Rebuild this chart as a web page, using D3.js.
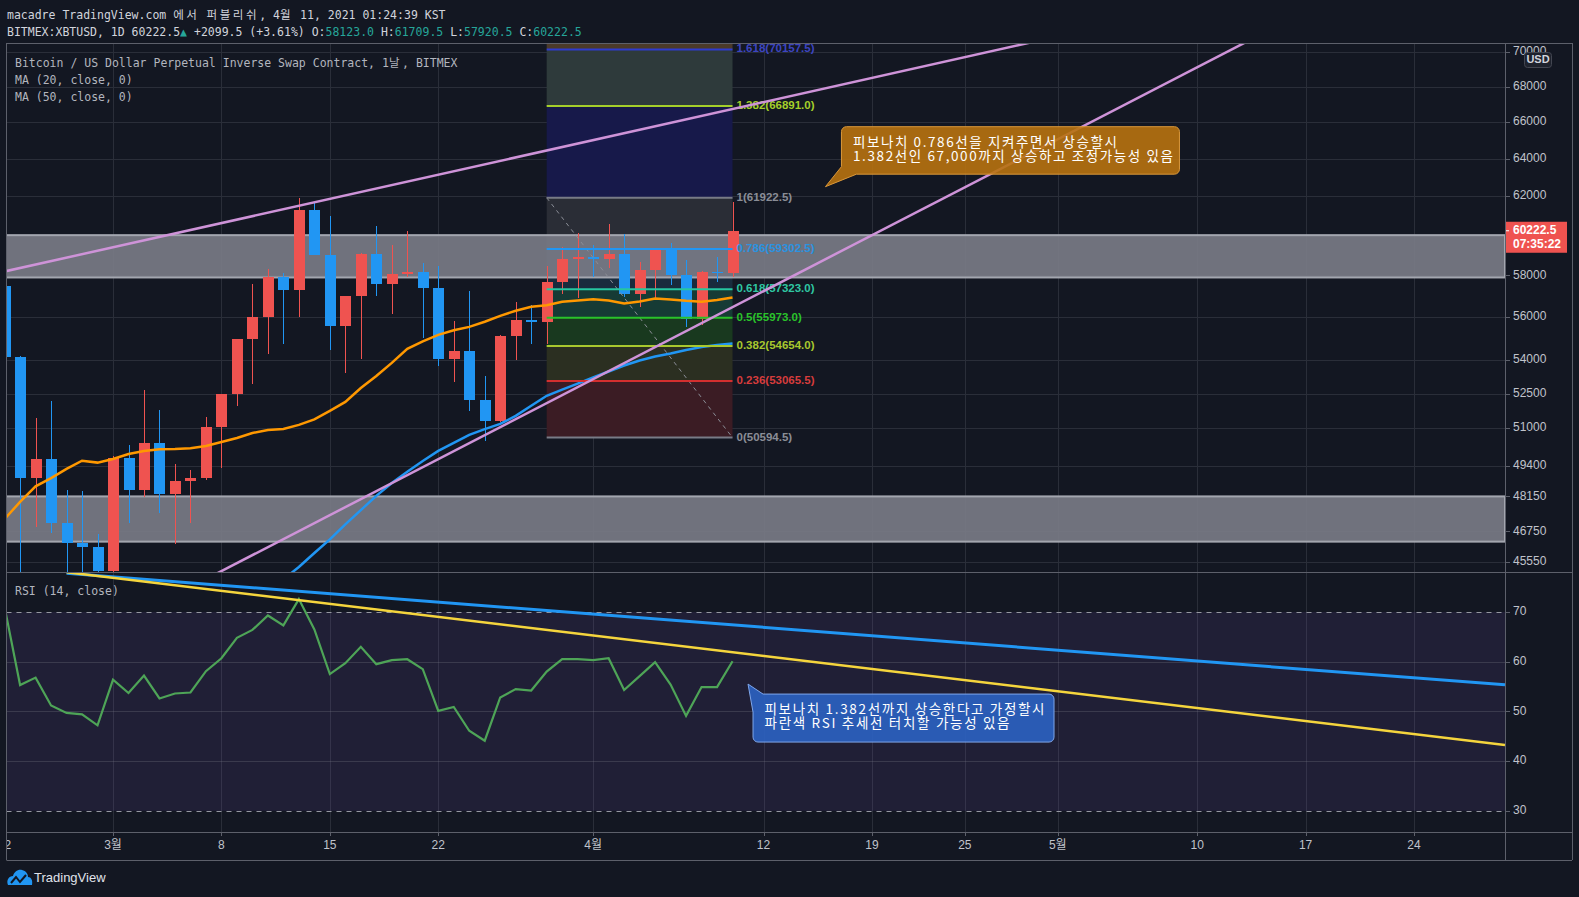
<!DOCTYPE html>
<html>
<head>
<meta charset="utf-8">
<script src="https://cdn.jsdelivr.net/npm/d3@7"></script>
<style>
    html, body { margin: 0; padding: 0; background: #131722; }
    svg { display: block; }
    text { font-family: "Liberation Sans", Arial, "Noto Sans CJK KR", sans-serif; }
    text.mono, .mono text, .mono tspan { font-family: "DejaVu Sans Mono", "Noto Sans CJK KR", monospace; }
    text.kr { font-family: "Noto Sans CJK KR", sans-serif; }
</style>
</head>
<body>
<svg id="chart"></svg>
<script>
const W = 1579, H = 897;

// ---- data (BITMEX:XBTUSD daily, Feb 22 - Apr 10 2021) ----
const firstDay = '2021-02-22';
const lastDay = '2021-04-11'; // exclusive
const opens = [57500, 54135, 48900, 49690, 47090, 46310, 46160, 45200, 49720, 48420, 50350, 48260, 48760, 48900, 51040, 52490, 54980, 56000, 57900, 57290, 61290, 59010, 55570, 57000, 59050, 57580, 58070, 58190, 57400, 54060, 54420, 52220, 51310, 55110, 55860, 55790, 57670, 58800, 58900, 58800, 59050, 57110, 58270, 59250, 58020, 55930, 58170, 58123];
const highs = [57550, 54200, 51420, 52180, 48420, 48380, 46650, 49830, 50280, 52660, 51780, 49480, 49230, 51480, 52500, 54990, 57600, 58300, 58100, 61890, 61700, 60960, 57000, 59120, 60450, 59500, 60200, 58600, 58450, 55800, 57240, 53290, 55150, 56700, 56550, 58450, 59400, 60100, 59500, 60580, 60050, 58640, 59250, 59600, 58740, 58200, 58900, 61709.5];
const lows = [47000, 45000, 46930, 46690, 44200, 45100, 43000, 45000, 47070, 48140, 47470, 46250, 47070, 48800, 49300, 51980, 52950, 54290, 54750, 56000, 59000, 54470, 53440, 54040, 56990, 56150, 57900, 55020, 53720, 53000, 51730, 50450, 51250, 54000, 54730, 54730, 57100, 56900, 57900, 58350, 56950, 56500, 56810, 57520, 55520, 55650, 57680, 57920.5];
const closes = [54135, 48900, 49690, 47090, 46310, 46160, 45200, 49720, 48420, 50350, 48260, 48760, 48900, 51040, 52490, 54980, 56000, 57900, 57290, 61290, 59010, 55570, 57000, 59050, 57580, 58070, 58190, 57400, 54060, 54420, 52220, 51310, 55110, 55860, 55790, 57670, 58800, 58900, 58800, 59050, 57110, 58270, 59250, 58020, 55930, 58170, 58123, 60222.5];

const ma20 = [47240, 47930, 48560, 48900, 49280, 49620, 49540, 49690, 49900, 50030, 50100, 50110, 50140, 50240, 50410, 50580, 50790, 50920, 50960, 51140, 51380, 51750, 52140, 52750, 53290, 53880, 54520, 54870, 55170, 55380, 55540, 55780, 56060, 56300, 56490, 56560, 56730, 56790, 56850, 56790, 56650, 56740, 56880, 56840, 56770, 56730, 56810, 56930];
// MA 50 starts on Mar 12 (below the visible range before that)
const ma50Start = 18;
const ma50 = [44900, 45370, 45910, 46440, 47030, 47600, 48170, 48700, 49160, 49610, 50030, 50370, 50710, 50960, 51180, 51530, 51970, 52410, 52680, 52950, 53220, 53490, 53760, 53990, 54170, 54310, 54470, 54610, 54700, 54770];

const rsi = [71.0, 55.3, 56.8, 51.2, 49.7, 49.4, 47.2, 56.4, 53.7, 57.2, 52.6, 53.6, 53.8, 58.1, 60.7, 64.8, 66.4, 69.3, 67.3, 72.6, 66.5, 57.5, 59.7, 63.0, 59.5, 60.3, 60.5, 58.5, 50.1, 50.9, 46.1, 44.1, 52.8, 54.5, 54.2, 58.0, 60.5, 60.5, 60.3, 60.7, 54.3, 57.1, 59.9, 55.4, 49.1, 54.9, 54.9, 60.1];

// fibonacci retracement (log)
const fibStart = '2021-03-29', fibEnd = '2021-04-10';
const fibRatios = [0, 0.236, 0.382, 0.5, 0.618, 0.786, 1, 1.382, 1.618];
const fibValues = [50594.5, 53065.5, 54654.0, 55973.0, 57323.0, 59302.5, 61922.5, 66891.0, 70157.5];
const fibLineColors = ['#787b86', '#d32f2f', '#a8c82e', '#2ac22a', '#26c6a0', '#2196f3', '#787b86', '#a5cf2a', '#2f3bd0'];
const fibLabelColors = ['#8a8d96', '#d63c3c', '#a8c82e', '#2ac22a', '#2fc7a2', '#2a93e0', '#8a8d96', '#a5cf2a', '#3d45c0'];
const fibFills = ['#3b1c24', '#2b2f21', '#19391f', '#163b35', '#192b3d', '#2a2d36', '#17194a', '#2e3a3b'];
const fibTopFill = '#4b3a2a';

// support / resistance zones [top, bottom]
const zones = [[60000, 57900], [48150, 46350]];

// channel lines: two anchors each [date, price]
const channel = [
    [['2021-02-22', 58193], ['2021-04-20', 68696]],
    [['2021-03-28', 51734], ['2021-04-17', 59194]]
];
// RSI trend lines [date, rsi]
const rsiTrends = [
    { color: '#2196f3', width: 3, pts: [['2021-02-26', 77.8], ['2021-04-10', 67.4]] },
    { color: '#f5d53d', width: 2.5, pts: [['2021-02-26', 78.0], ['2021-04-10', 61.9]] }
];

const priceTicks = [70000, 68000, 66000, 64000, 62000, 58000, 56000, 54000, 52500, 51000, 49400, 48150, 46750, 45550];
const rsiTicks = [70, 60, 50, 40, 30];
const timeTicks = ['2021-02-22', '2021-03-01', '2021-03-08', '2021-03-15', '2021-03-22', '2021-04-01', '2021-04-12', '2021-04-19', '2021-04-25', '2021-05-01', '2021-05-10', '2021-05-17', '2021-05-24'];
const timeLabels = ['22', '3월', '8', '15', '22', '4월', '12', '19', '25', '5월', '10', '17', '24'];

const orangeNote = ['피보나치 0.786선을 지켜주면서 상승할시', '1.382선인 67,000까지 상승하고 조정가능성 있음'];
const orangeWidths = [264, 320];
const orangeTip = ['2021-04-16', 62500];
const blueNote = ['피보나치 1.382선까지 상승한다고 가정할시', '파란색 RSI 추세선 터치할 가능성 있음'];
const blueWidths = [280, 245];
const blueTip = ['2021-04-11', 55.5];

const lastPrice = 60222.5;
const countdown = '07:35:22';

// ---- layout ----
const L = 6.5, R = 1505, T = 43, PB = 572, RB = 832, AB = 860, OR = 1572;
const UP = '#ef5350', DOWN = '#2196f3';
const GRID = '#2a2e39', BORDER = '#5d606b', AXIS_TXT = '#c0c3cb';

const parse = d3.utcParse('%Y-%m-%d');
const days = d3.utcDay.range(parse(firstDay), parse(lastDay));

const x = d3.scaleUtc()
    .domain([parse('2021-02-22'), parse('2021-05-24')])
    .range([4.6, 1414]);
const y = d3.scaleLog().domain([45180, 70540]).range([PB, T]);
const yR = d3.scaleLinear().domain([30, 70]).range([810.8, 612]);

const svg = d3.select('#chart').attr('width', W).attr('height', H);
svg.append('rect').attr('width', W).attr('height', H).attr('fill', '#131722');

const defs = svg.append('defs');
const clip = (id, x0, y0, x1, y1) => defs.append('clipPath').attr('id', id)
    .append('rect').attr('x', x0).attr('y', y0).attr('width', x1 - x0).attr('height', y1 - y0);
clip('cp', L, T, R, PB);
clip('cr', L, PB, R, RB);
clip('ct', L, RB, R, AB);

// mono text with wider hangul runs (as rendered in the header)
const isKr = (s) => /[\u3131-\uD79D]/.test(s);
const monoText = (sel, str, color) => {
    const parts = str.split(/([\u3131-\uD79D]+)/).filter((p) => p.length);
    sel.attr('class', 'mono').attr('xml:space', 'preserve')
        .selectAll('tspan').data(parts).join('tspan')
        .attr('fill', color)
        .attr('letter-spacing', (d) => (isKr(d) ? 2.6 : null))
        .text((d) => d);
    return sel;
};

// ---- header ----
monoText(svg.append('text').attr('x', 7).attr('y', 15)
    .attr('dominant-baseline', 'middle').attr('font-size', 11.5),
    'macadre TradingView.com 에서 퍼블리쉬, 4월 11, 2021 01:24:39 KST', '#d1d4dc');

const TEAL = '#26a69a';
const hdr = [
    ['BITMEX:XBTUSD, 1D 60222.5', '#d1d4dc'], ['▲', TEAL], [' +2099.5 (+3.61%) O:', '#d1d4dc'],
    ['58123.0', TEAL], [' H:', '#d1d4dc'], ['61709.5', TEAL], [' L:', '#d1d4dc'],
    ['57920.5', TEAL], [' C:', '#d1d4dc'], ['60222.5', TEAL]
];
svg.append('text').attr('class', 'mono').attr('x', 7).attr('y', 32)
    .attr('dominant-baseline', 'middle').attr('font-size', 11.5).attr('xml:space', 'preserve')
    .selectAll('tspan').data(hdr).join('tspan')
    .attr('fill', (d) => d[1]).text((d) => d[0]);

// ---- grid ----
const grid = svg.append('g').attr('stroke', GRID).attr('stroke-width', 1);
grid.append('g').attr('clip-path', 'url(#cp)').selectAll('line').data(priceTicks).join('line')
    .attr('x1', L).attr('x2', R)
    .attr('y1', (d) => Math.round(y(d)) + 0.5).attr('y2', (d) => Math.round(y(d)) + 0.5);
grid.append('g').selectAll('line').data(timeTicks.filter((d) => x(parse(d)) > L)).join('line')
    .attr('x1', (d) => Math.round(x(parse(d))) + 0.5).attr('x2', (d) => Math.round(x(parse(d))) + 0.5)
    .attr('y1', T).attr('y2', RB);

// ---- price pane ----
const pane = svg.append('g').attr('clip-path', 'url(#cp)');

// fib fills
const fx0 = x(parse(fibStart)), fx1 = x(parse(fibEnd));
const fib = pane.append('g');
fib.selectAll('rect').data(fibFills).join('rect')
    .attr('x', fx0).attr('width', fx1 - fx0)
    .attr('y', (d, i) => y(fibValues[i + 1]))
    .attr('height', (d, i) => y(fibValues[i]) - y(fibValues[i + 1]))
    .attr('fill', (d) => d);
fib.append('rect').attr('x', fx0).attr('width', fx1 - fx0)
    .attr('y', T).attr('height', y(fibValues[fibValues.length - 1]) - T)
    .attr('fill', fibTopFill);

// zones
pane.append('g').selectAll('rect').data(zones).join('rect')
    .attr('x', 0).attr('width', R)
    .attr('y', (d) => y(d[0])).attr('height', (d) => y(d[1]) - y(d[0]))
    .attr('fill', '#787b86').attr('fill-opacity', 0.92)
    .attr('stroke', '#a3a6af').attr('stroke-width', 2);

// candles
const candles = days.map((d, i) => ({ date: d, o: opens[i], h: highs[i], l: lows[i], c: closes[i] }));
const cg = pane.append('g').attr('shape-rendering', 'crispEdges');
cg.selectAll('line').data(candles).join('line')
    .attr('x1', (d) => Math.round(x(d.date)) + 0.5).attr('x2', (d) => Math.round(x(d.date)) + 0.5)
    .attr('y1', (d) => y(d.h)).attr('y2', (d) => y(d.l))
    .attr('stroke', (d) => (d.c >= d.o ? UP : DOWN));
cg.selectAll('rect').data(candles).join('rect')
    .attr('x', (d) => Math.round(x(d.date)) - 5).attr('width', 11)
    .attr('y', (d) => y(Math.max(d.o, d.c)))
    .attr('height', (d) => Math.max(1.5, Math.abs(y(d.o) - y(d.c))))
    .attr('fill', (d) => (d.c >= d.o ? UP : DOWN));

// moving averages
const maLine = d3.line().x((d) => x(d.date)).y((d) => y(d.v));
pane.append('path')
    .datum(ma20.map((v, i) => ({ date: days[i], v })))
    .attr('d', maLine).attr('fill', 'none').attr('stroke', '#ff9800').attr('stroke-width', 2.5);
pane.append('path')
    .datum(ma50.map((v, i) => ({ date: days[ma50Start + i], v })))
    .attr('d', maLine).attr('fill', 'none').attr('stroke', '#2196f3').attr('stroke-width', 2.5);

// fib lines, labels, diagonal
pane.append('line')
    .attr('x1', fx0).attr('y1', y(fibValues[6])).attr('x2', fx1).attr('y2', y(fibValues[0]))
    .attr('stroke', '#8a8d96').attr('stroke-width', 1).attr('stroke-dasharray', '4,4');
pane.append('g').selectAll('line').data(fibValues).join('line')
    .attr('x1', fx0).attr('x2', fx1)
    .attr('y1', (d) => y(d)).attr('y2', (d) => y(d))
    .attr('stroke', (d, i) => fibLineColors[i]).attr('stroke-width', 2);
pane.append('g').selectAll('text').data(fibValues).join('text')
    .attr('x', fx1 + 4).attr('y', (d) => y(d))
    .attr('dominant-baseline', 'middle').attr('font-size', 11.5).attr('font-weight', 'bold')
    .attr('fill', (d, i) => fibLabelColors[i])
    .text((d, i) => `${fibRatios[i]}(${d.toFixed(1)})`);

// channel lines (extended)
const extend = (a, b, x0, x1) => {
    const m = (b[1] - a[1]) / (b[0] - a[0]);
    return [[x0, a[1] + m * (x0 - a[0])], [x1, a[1] + m * (x1 - a[0])]];
};
pane.append('g').selectAll('path').data(channel).join('path')
    .attr('d', (d) => d3.line()(extend(
        [x(parse(d[0][0])), y(d[0][1])], [x(parse(d[1][0])), y(d[1][1])], 0, R)))
    .attr('stroke', '#ce93d8').attr('stroke-width', 2.5).attr('fill', 'none');

// callout helper
function callout(g, tip, box, ptrA, ptrB, corner, lines, widths, fill, stroke) {
    const { x0, y0, w, h } = box, r = 5, x1 = x0 + w, y1 = y0 + h;
    const p = d3.path();
    if (corner === 'bl') {
        p.moveTo(x0 + r, y0); p.lineTo(x1 - r, y0); p.arcTo(x1, y0, x1, y0 + r, r);
        p.lineTo(x1, y1 - r); p.arcTo(x1, y1, x1 - r, y1, r);
        p.lineTo(ptrB, y1); p.lineTo(tip[0], tip[1]); p.lineTo(x0, ptrA);
        p.lineTo(x0, y0 + r); p.arcTo(x0, y0, x0 + r, y0, r);
    } else {
        p.moveTo(ptrB, y0); p.lineTo(x1 - r, y0); p.arcTo(x1, y0, x1, y0 + r, r);
        p.lineTo(x1, y1 - r); p.arcTo(x1, y1, x1 - r, y1, r);
        p.lineTo(x0 + r, y1); p.arcTo(x0, y1, x0, y1 - r, r);
        p.lineTo(x0, ptrA); p.lineTo(tip[0], tip[1]);
    }
    p.closePath();
    g.append('path').attr('d', p.toString())
        .attr('fill', fill).attr('fill-opacity', 0.9).attr('stroke', stroke).attr('stroke-width', 1);
    g.append('g').selectAll('text').data(lines).join('text')
        .attr('class', 'kr').attr('x', x0 + 11.5).attr('y', (d, i) => y0 + 16.5 + i * 14)
        .attr('dominant-baseline', 'middle').attr('font-size', 13.5).attr('fill', '#ffffff')
        .attr('textLength', (d, i) => widths[i]).attr('lengthAdjust', 'spacing')
        .text((d) => d);
}

const oTip = [x(parse(orangeTip[0])), y(orangeTip[1])];
callout(svg.append('g'), oTip,
    { x0: oTip[0] + 16, y0: oTip[1] - 60, w: 338, h: 47.5 },
    oTip[1] - 20, oTip[0] + 31, 'bl', orangeNote, orangeWidths, '#b8720f', '#d9973a');

// legend
svg.append('g').attr('font-size', 11.5)
    .selectAll('text')
    .data(['Bitcoin / US Dollar Perpetual Inverse Swap Contract, 1날, BITMEX', 'MA (20, close, 0)', 'MA (50, close, 0)'])
    .join('text')
    .attr('x', 15).attr('y', (d, i) => 63 + i * 17).attr('dominant-baseline', 'middle')
    .each(function (d) { monoText(d3.select(this), d, '#b2b5be'); });

// ---- RSI pane ----
const rp = svg.append('g').attr('clip-path', 'url(#cr)');
rp.append('rect').attr('x', L).attr('width', R - L)
    .attr('y', yR(70)).attr('height', yR(30) - yR(70))
    .attr('fill', '#7e57c2').attr('fill-opacity', 0.13);
rp.append('g').selectAll('line').data([60, 50, 40]).join('line')
    .attr('x1', L).attr('x2', R)
    .attr('y1', (d) => Math.round(yR(d)) + 0.5).attr('y2', (d) => Math.round(yR(d)) + 0.5)
    .attr('stroke', '#787b86').attr('stroke-opacity', 0.3);
rp.append('g').selectAll('line').data([70, 30]).join('line')
    .attr('x1', L).attr('x2', R)
    .attr('y1', (d) => Math.round(yR(d)) + 0.5).attr('y2', (d) => Math.round(yR(d)) + 0.5)
    .attr('stroke', '#9598a1').attr('stroke-dasharray', '5,5');
rp.append('path')
    .datum(rsi.map((v, i) => ({ date: days[i], v })))
    .attr('d', d3.line().x((d) => x(d.date)).y((d) => yR(d.v)))
    .attr('fill', 'none').attr('stroke', '#4ea457').attr('stroke-width', 2.2);
rp.append('g').selectAll('path').data(rsiTrends).join('path')
    .attr('d', (d) => {
        const a = [x(parse(d.pts[0][0])), yR(d.pts[0][1])];
        const b = [x(parse(d.pts[1][0])), yR(d.pts[1][1])];
        return d3.line()(extend(a, b, a[0], R));
    })
    .attr('stroke', (d) => d.color).attr('stroke-width', (d) => d.width).attr('fill', 'none');

const bTip = [x(parse(blueTip[0])), yR(blueTip[1])];
callout(svg.append('g'), bTip,
    { x0: bTip[0] + 5, y0: bTip[1] + 10, w: 301, h: 48 },
    bTip[1] + 28, bTip[0] + 15, 'tl', blueNote, blueWidths, '#2b62c2', '#7fa6ea');

svg.append('text').attr('class', 'mono').attr('x', 15).attr('y', 591)
    .attr('dominant-baseline', 'middle').attr('font-size', 11.5).attr('fill', '#b2b5be')
    .text('RSI (14, close)');

// ---- right axis ----
const ax = svg.append('g').attr('font-size', 12).attr('fill', AXIS_TXT);
ax.selectAll('text.p').data(priceTicks).join('text').attr('class', 'p')
    .attr('x', 1513).attr('y', (d) => y(d)).attr('dominant-baseline', 'middle').text((d) => d);
ax.selectAll('text.r').data(rsiTicks).join('text').attr('class', 'r')
    .attr('x', 1513).attr('y', (d) => yR(d)).attr('dominant-baseline', 'middle').text((d) => d);
svg.append('g').attr('stroke', BORDER).selectAll('line')
    .data(priceTicks.map(y).concat(rsiTicks.map(yR))).join('line')
    .attr('x1', R).attr('x2', R + 5)
    .attr('y1', (d) => Math.round(d) + 0.5).attr('y2', (d) => Math.round(d) + 0.5);

// last price label
const lp = y(lastPrice);
svg.append('rect').attr('x', R).attr('y', lp - 9).attr('width', 62).attr('height', 31)
    .attr('fill', '#ef5350');
svg.append('line').attr('x1', R).attr('x2', R + 4).attr('y1', lp).attr('y2', lp)
    .attr('stroke', '#ffffff');
svg.append('g').attr('font-size', 12).attr('font-weight', 'bold').attr('fill', '#ffffff')
    .selectAll('text').data([lastPrice.toFixed(1), countdown]).join('text')
    .attr('x', 1513).attr('y', (d, i) => lp + i * 14).attr('dominant-baseline', 'middle')
    .text((d) => d);

// USD badge
svg.append('rect').attr('x', 1524.5).attr('y', 52.5).attr('width', 27).attr('height', 15).attr('rx', 3)
    .attr('fill', '#1e222d').attr('stroke', '#434651');
svg.append('text').attr('x', 1538).attr('y', 60.5).attr('text-anchor', 'middle')
    .attr('dominant-baseline', 'middle').attr('font-size', 11).attr('font-weight', 'bold')
    .attr('fill', '#d1d4dc').text('USD');

// ---- time axis ----
const tg = svg.append('g').attr('clip-path', 'url(#ct)');
tg.selectAll('text').data(timeTicks).join('text')
    .attr('x', (d) => x(parse(d))).attr('y', 846)
    .attr('text-anchor', 'middle').attr('dominant-baseline', 'middle')
    .attr('font-size', 12).attr('fill', AXIS_TXT)
    .text((d, i) => timeLabels[i]);
tg.selectAll('line').data(timeTicks).join('line')
    .attr('x1', (d) => Math.round(x(parse(d))) + 0.5).attr('x2', (d) => Math.round(x(parse(d))) + 0.5)
    .attr('y1', RB).attr('y2', RB + 4).attr('stroke', BORDER);

// ---- frame ----
const frame = svg.append('g').attr('stroke', BORDER).attr('stroke-width', 1);
[[L, T + 0.5, OR, T + 0.5], [L, PB + 0.5, OR, PB + 0.5], [L, RB + 0.5, OR, RB + 0.5], [L, AB + 0.5, OR, AB + 0.5],
 [L, T, L, AB], [R + 0.5, T, R + 0.5, AB], [OR + 0.5, T, OR + 0.5, AB]]
    .forEach((s) => frame.append('line').attr('x1', s[0]).attr('y1', s[1]).attr('x2', s[2]).attr('y2', s[3]));

// ---- TradingView logo ----
const logo = svg.append('g').attr('transform', 'translate(7,868)');
logo.append('path')
    .attr('d', 'M1 17 C-1 12 2 8 6 8 C7 4 11 1 15 2 C19 3 21 6 21 9 C24 9 26 12 25 17 Z')
    .attr('fill', '#2196f3');
logo.append('path').attr('d', 'M4 15 L9 9 L13 14 L19 7')
    .attr('stroke', '#131722').attr('stroke-width', 2).attr('fill', 'none');
svg.append('text').attr('x', 34).attr('y', 879).attr('dominant-baseline', 'middle')
    .attr('font-size', 13).attr('fill', '#e0e3eb').text('TradingView');
</script>
</body>
</html>
